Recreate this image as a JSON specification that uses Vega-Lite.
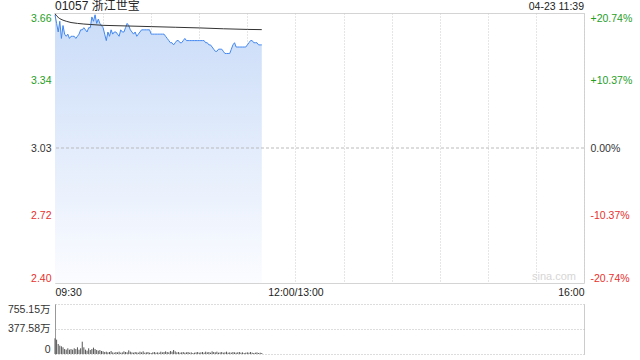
{
"$schema": "https://vega.github.io/schema/vega-lite/v6.json",
"padding": {"left": 7, "top": -1, "right": 7, "bottom": 5},
"background": "#ffffff",
"spacing": 21,
"bounds": "flush",
"config": {"font": "Liberation Sans, Noto Sans CJK SC", "view": {"stroke": "#d4d4d4"}, "axis": {"labelFont": "Liberation Sans, Noto Sans CJK SC", "labelFontSize": 10.5, "labelColor": "#333333"}},
"datasets": {
"pv": [
{"m":0,"p":3.65,"v":237},{"m":1,"p":3.61,"v":216},{"m":2,"p":3.57,"v":151},{"m":3,"p":3.62,"v":126},{"m":4,"p":3.54,"v":116},{"m":5,"p":3.60,"v":101},{"m":6,"p":3.56,"v":75},{"m":7,"p":3.55,"v":65},{"m":8,"p":3.56,"v":86},{"m":9,"p":3.54,"v":65},
{"m":10,"p":3.55,"v":75},{"m":11,"p":3.55,"v":65},{"m":12,"p":3.55,"v":86},{"m":13,"p":3.54,"v":75},{"m":14,"p":3.55,"v":101},{"m":15,"p":3.56,"v":65},{"m":16,"p":3.58,"v":86},{"m":17,"p":3.58,"v":186},{"m":18,"p":3.59,"v":101},{"m":19,"p":3.58,"v":65},
{"m":20,"p":3.57,"v":50},{"m":21,"p":3.59,"v":86},{"m":22,"p":3.59,"v":60},{"m":23,"p":3.64,"v":75},{"m":24,"p":3.62,"v":96},{"m":25,"p":3.65,"v":75},{"m":26,"p":3.61,"v":60},{"m":27,"p":3.63,"v":50},{"m":28,"p":3.61,"v":60},{"m":29,"p":3.60,"v":45},
{"m":30,"p":3.59,"v":40},{"m":31,"p":3.56,"v":30},{"m":32,"p":3.53,"v":35},{"m":33,"p":3.57,"v":25},{"m":34,"p":3.55,"v":30},{"m":35,"p":3.58,"v":45},{"m":36,"p":3.56,"v":25},{"m":37,"p":3.57,"v":20},{"m":38,"p":3.57,"v":30},{"m":39,"p":3.56,"v":25},
{"m":40,"p":3.55,"v":35},{"m":41,"p":3.58,"v":20},{"m":42,"p":3.57,"v":25},{"m":43,"p":3.57,"v":40},{"m":44,"p":3.59,"v":30},{"m":45,"p":3.61,"v":25},{"m":46,"p":3.60,"v":55},{"m":47,"p":3.58,"v":35},{"m":48,"p":3.57,"v":25},{"m":49,"p":3.56,"v":20},
{"m":50,"p":3.57,"v":30},{"m":51,"p":3.55,"v":25},{"m":52,"p":3.56,"v":20},{"m":53,"p":3.57,"v":35},{"m":54,"p":3.58,"v":25},{"m":55,"p":3.58,"v":40},{"m":56,"p":3.58,"v":20},{"m":57,"p":3.58,"v":25},{"m":58,"p":3.58,"v":30},{"m":59,"p":3.58,"v":20},
{"m":60,"p":3.56,"v":15},{"m":61,"p":3.56,"v":25},{"m":62,"p":3.56,"v":30},{"m":63,"p":3.56,"v":20},{"m":64,"p":3.56,"v":25},{"m":65,"p":3.56,"v":20},{"m":66,"p":3.56,"v":35},{"m":67,"p":3.56,"v":25},{"m":68,"p":3.56,"v":30},{"m":69,"p":3.55,"v":40},
{"m":70,"p":3.54,"v":30},{"m":71,"p":3.53,"v":25},{"m":72,"p":3.52,"v":45},{"m":73,"p":3.52,"v":35},{"m":74,"p":3.51,"v":60},{"m":75,"p":3.52,"v":40},{"m":76,"p":3.53,"v":25},{"m":77,"p":3.53,"v":30},{"m":78,"p":3.52,"v":20},{"m":79,"p":3.52,"v":25},
{"m":80,"p":3.53,"v":30},{"m":81,"p":3.54,"v":20},{"m":82,"p":3.53,"v":25},{"m":83,"p":3.53,"v":30},{"m":84,"p":3.53,"v":20},{"m":85,"p":3.53,"v":25},{"m":86,"p":3.53,"v":15},{"m":87,"p":3.53,"v":20},{"m":88,"p":3.53,"v":25},{"m":89,"p":3.53,"v":30},
{"m":90,"p":3.53,"v":20},{"m":91,"p":3.53,"v":25},{"m":92,"p":3.53,"v":30},{"m":93,"p":3.53,"v":20},{"m":94,"p":3.52,"v":35},{"m":95,"p":3.52,"v":25},{"m":96,"p":3.51,"v":30},{"m":97,"p":3.51,"v":20},{"m":98,"p":3.50,"v":40},{"m":99,"p":3.49,"v":30},
{"m":100,"p":3.48,"v":25},{"m":101,"p":3.48,"v":35},{"m":102,"p":3.49,"v":20},{"m":103,"p":3.49,"v":25},{"m":104,"p":3.49,"v":30},{"m":105,"p":3.48,"v":20},{"m":106,"p":3.47,"v":25},{"m":107,"p":3.47,"v":35},{"m":108,"p":3.47,"v":20},{"m":109,"p":3.47,"v":25},
{"m":110,"p":3.49,"v":20},{"m":111,"p":3.51,"v":30},{"m":112,"p":3.52,"v":25},{"m":113,"p":3.50,"v":20},{"m":114,"p":3.50,"v":25},{"m":115,"p":3.50,"v":30},{"m":116,"p":3.50,"v":20},{"m":117,"p":3.50,"v":25},{"m":118,"p":3.50,"v":15},{"m":119,"p":3.50,"v":20},
{"m":120,"p":3.51,"v":25},{"m":121,"p":3.52,"v":20},{"m":122,"p":3.53,"v":30},{"m":123,"p":3.53,"v":20},{"m":124,"p":3.52,"v":15},{"m":125,"p":3.52,"v":20},{"m":126,"p":3.52,"v":25},{"m":127,"p":3.51,"v":15},{"m":128,"p":3.51,"v":20},{"m":129,"p":3.51,"v":15}
],
"avg": [
{"m":0,"a":3.655},{"m":1,"a":3.645},{"m":2,"a":3.638},{"m":3,"a":3.632},{"m":5,"a":3.625},{"m":7,"a":3.62},{"m":10,"a":3.614},{"m":14,"a":3.61},{"m":18,"a":3.607},{"m":22,"a":3.605},{"m":30,"a":3.601},{"m":45,"a":3.598},{"m":60,"a":3.595},{"m":75,"a":3.592},{"m":90,"a":3.589},{"m":105,"a":3.585},{"m":120,"a":3.582},{"m":129,"a":3.581}
],
"labels": [{"title": "01057 浙江世宝", "date": "04-23 11:39", "wm": "sina.com"}]
},
"vconcat": [
{
"width": 529, "height": 270,
"resolve": {"axis": {"y": "independent"}},
"layer": [
{
"data": {"name": "pv"},
"mark": {"type": "area", "color": {"gradient": "linear", "x1": 0, "y1": 0, "x2": 0, "y2": 1, "stops": [{"offset": 0, "color": "#cadcf8"}, {"offset": 1, "color": "#fbfcff"}]}},
"encoding": {
"x": {"field": "m", "type": "quantitative", "scale": {"domain": [0, 330], "nice": false, "zero": false},
"axis": {"values": [0,30,60,90,120,150,180,210,240,270,300,330], "labelExpr": "datum.value == 0 ? '09:30' : datum.value == 150 ? '12:00/13:00' : datum.value == 330 ? '16:00' : ''", "title": null, "grid": true, "gridDash": [1,2], "gridColor": "#cccccc", "ticks": false, "domain": false, "labelFlush": true, "labelPadding": 4, "labelColor": "#222222"}},
"y": {"field": "p", "type": "quantitative", "scale": {"domain": [2.4016, 3.6584], "nice": false, "zero": false},
"axis": {"values": [2.4016, 2.7158, 3.03, 3.3442, 3.6584], "format": ".2f", "title": null, "grid": false, "ticks": false, "domain": false, "labelFlush": true, "labelPadding": 4,
"labelColor": {"expr": "datum.value > 3.031 ? '#1f9e1f' : datum.value < 3.029 ? '#e8302c' : '#333333'"}}},
"y2": {"datum": 2.4016}
}
},
{
"data": {"name": "pv"},
"mark": {"type": "line", "color": "#4287f0", "strokeWidth": 1},
"encoding": {
"x": {"field": "m", "type": "quantitative"},
"y": {"field": "p", "type": "quantitative", "axis": null}
}
},
{
"data": {"name": "avg"},
"mark": {"type": "line", "color": "#333333", "strokeWidth": 1},
"encoding": {
"x": {"field": "m", "type": "quantitative"},
"y": {"field": "a", "type": "quantitative", "axis": {"orient": "right", "values": [2.4016, 2.7158, 3.03, 3.3442, 3.6584], "title": null, "grid": false, "ticks": false, "domain": false, "labelFlush": true, "labelPadding": 6,
"labelExpr": "datum.value > 3.031 ? '+' + format((datum.value/3.03-1)*100, '.2f') + '%' : datum.value < 3.029 ? '-' + format((1-datum.value/3.03)*100, '.2f') + '%' : '0.00%'",
"labelColor": {"expr": "datum.value > 3.031 ? '#1f9e1f' : datum.value < 3.029 ? '#e8302c' : '#333333'"}}}
}
},
{
"data": {"name": "labels"},
"mark": {"type": "rule", "color": "#bbbbbb", "strokeDash": [3, 2], "strokeWidth": 1},
"encoding": {"y": {"datum": 3.03, "axis": null}}
},
{
"data": {"name": "labels"},
"mark": {"type": "text", "align": "left", "baseline": "alphabetic", "dy": -3, "fontSize": 12, "color": "#222222"},
"encoding": {"x": {"datum": 0}, "y": {"datum": 3.6584, "axis": null}, "text": {"field": "title"}}
},
{
"data": {"name": "labels"},
"mark": {"type": "text", "align": "right", "baseline": "alphabetic", "dy": -3, "fontSize": 10.5, "color": "#222222"},
"encoding": {"x": {"datum": 330}, "y": {"datum": 3.6584, "axis": null}, "text": {"field": "date"}}
},
{
"data": {"name": "labels"},
"mark": {"type": "text", "align": "right", "baseline": "bottom", "dx": -8, "dy": -1, "fontSize": 11, "color": "#d6d6d6"},
"encoding": {"x": {"datum": 330}, "y": {"datum": 2.4016, "axis": null}, "text": {"field": "wm"}}
}
]
},
{
"width": 529, "height": 50,
"view": {"stroke": null},
"data": {"name": "pv"},
"mark": {"type": "rule", "color": "#555555", "strokeWidth": 1},
"encoding": {
"x": {"field": "m", "type": "quantitative", "scale": {"domain": [0, 330], "nice": false, "zero": false},
"axis": {"values": [0, 330], "labels": false, "title": null, "grid": true, "gridColor": "#cccccc", "ticks": false, "domain": false}},
"y": {"field": "v", "type": "quantitative", "scale": {"domain": [0, 755.15], "nice": false},
"axis": {"values": [0, 377.576, 755.15], "labelExpr": "datum.value == 0 ? '0' : format(datum.value, '.2f') + '万'", "title": null, "grid": true, "gridDash": [1, 2], "gridColor": "#bbbbbb", "ticks": false, "domain": true, "domainColor": "#999999", "labelFlush": true, "labelPadding": 5}},
"y2": {"datum": 0}
}
}
]
}
